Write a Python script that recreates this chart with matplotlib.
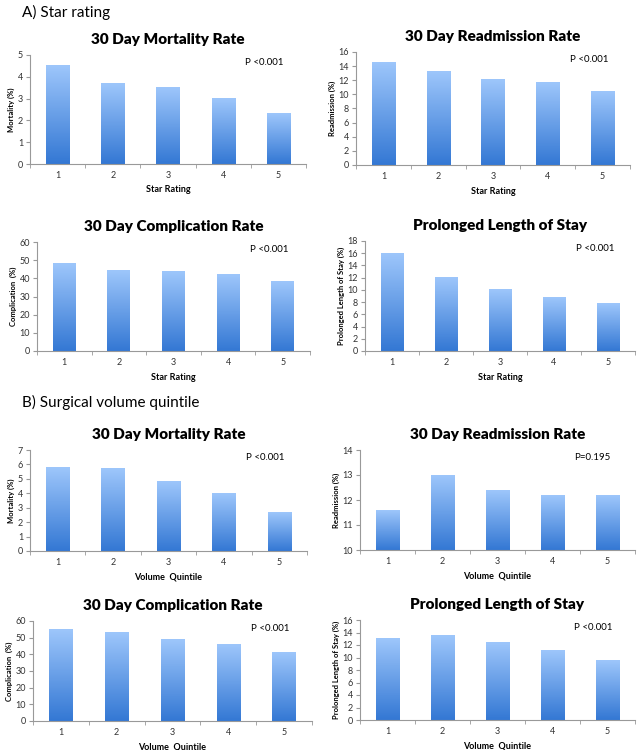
import numpy as np
import matplotlib.pyplot as plt
from matplotlib.colors import LinearSegmentedColormap

plt.rcParams['font.family'] = ['Lato', 'DejaVu Sans']

cats = [1, 2, 3, 4, 5]

# A) star rating
star_mort = [4.5, 3.7, 3.5, 3.0, 2.3]
star_readm = [14.5, 13.2, 12.1, 11.7, 10.4]
star_comp = [48, 44.5, 43.5, 42, 38.5]
star_plos = [16, 12, 10, 8.8, 7.8]

# B) volume quintile
vol_mort = [5.8, 5.7, 4.8, 4.0, 2.7]
vol_readm = [11.6, 13.0, 12.4, 12.2, 12.2]
vol_comp = [55, 53, 49, 46, 41]
vol_plos = [13, 13.5, 12.4, 11.2, 9.5]

W, H = 641, 750
fig = plt.figure(figsize=(W / 100, H / 100), dpi=100)

cmap = LinearSegmentedColormap.from_list('bar', ['#3478d4', '#9dc6fb'])
grad = np.linspace(0, 1, 100).reshape(-1, 1)


def panel(box, vals, title, ylab, xlab, ylim, yticks, ptxt):
    l, t, r, b = box
    ax = fig.add_axes([l / W, 1 - b / H, (r - l) / W, (b - t) / H])
    y0 = ylim[0]
    for c, v in zip(cats, vals):
        ax.imshow(grad, cmap=cmap, origin='lower', aspect='auto',
                  extent=(c - 0.21, c + 0.21, y0, v), zorder=2)
    ax.set_xlim(0.5, 5.5)
    ax.set_ylim(*ylim)
    ax.set_yticks(yticks)
    ax.set_xticks(cats)
    ax.set_xticks([0.5, 1.5, 2.5, 3.5, 4.5, 5.5], minor=True)
    ax.tick_params(axis='x', which='major', length=0, labelsize=6.5, pad=5, colors='#333333')
    ax.tick_params(axis='x', which='minor', length=3, color='#999999', direction='out')
    ax.tick_params(axis='y', length=3, labelsize=6.5, color='#999999', labelcolor='#333333', pad=2)
    for s in ['top', 'right']:
        ax.spines[s].set_visible(False)
    for s in ['left', 'bottom']:
        ax.spines[s].set_color('#999999')
        ax.spines[s].set_linewidth(0.8)
    ax.set_title(title, fontsize=11, fontweight='heavy', pad=8)
    ax.set_ylabel(ylab, fontsize=5.5, fontweight='bold', labelpad=2)
    ax.set_xlabel(xlab, fontsize=6.5, fontweight='bold', labelpad=4)
    ax.text(0.78, 0.97, ptxt, transform=ax.transAxes, fontsize=7, va='top')
    return ax


panel((30, 55, 306, 164), star_mort, '30 Day Mortality Rate', 'Mortality (%)',
      'Star Rating', (0, 5), range(0, 6), 'P <0.001')
panel((356, 52, 630, 165), star_readm, '30 Day Readmission Rate', 'Readmission (%)',
      'Star Rating', (0, 16), range(0, 17, 2), 'P <0.001')
panel((37, 242, 310, 351), star_comp, '30 Day Complication Rate', 'Complication  (%)',
      'Star Rating', (0, 60), range(0, 61, 10), 'P <0.001')
panel((365, 241, 635, 351), star_plos, 'Prolonged Length of Stay', 'Prolonged Length of Stay (%)',
      'Star Rating', (0, 18), range(0, 19, 2), 'P <0.001')

panel((30, 450, 307, 551), vol_mort, '30 Day Mortality Rate', 'Mortality (%)',
      'Volume  Quintile', (0, 7), range(0, 8), 'P <0.001')
panel((360, 450, 635, 550), vol_readm, '30 Day Readmission Rate', 'Readmission (%)',
      'Volume  Quintile', (10, 14), range(10, 15), 'P=0.195')
panel((33, 621, 312, 721), vol_comp, '30 Day Complication Rate', 'Complication  (%)',
      'Volume  Quintile', (0, 60), range(0, 61, 10), 'P <0.001')
panel((360, 620, 635, 720), vol_plos, 'Prolonged Length of Stay', 'Prolonged Length of Stay (%)',
      'Volume  Quintile', (0, 16), range(0, 17, 2), 'P <0.001')

fig.text(22 / W, 1 - 12 / H, 'A) Star rating', fontsize=11, va='center')
fig.text(22 / W, 1 - 402 / H, 'B) Surgical volume quintile', fontsize=11, va='center')

fig.savefig('out.png', dpi=100)
